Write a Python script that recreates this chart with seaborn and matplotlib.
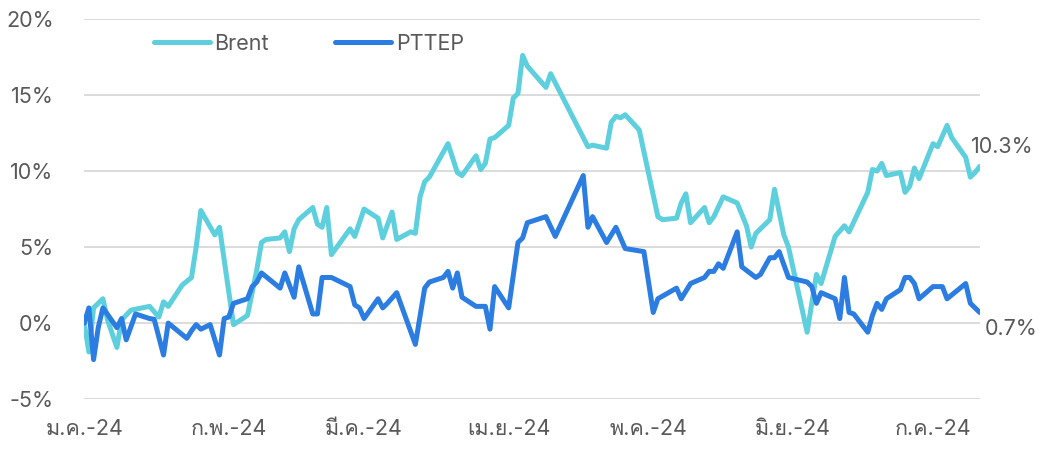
import pandas as pd
import matplotlib
matplotlib.use("Agg")
import matplotlib.pyplot as plt
import seaborn as sns
from matplotlib import font_manager, ft2font
from matplotlib.ticker import FuncFormatter

# ── Data (% change since start of year) ────
BRENT_DATES = [
    "2024-01-01", "2024-01-02", "2024-01-03", "2024-01-05", "2024-01-06",
    "2024-01-08", "2024-01-09", "2024-01-11", "2024-01-15", "2024-01-17",
    "2024-01-18", "2024-01-19", "2024-01-22", "2024-01-24", "2024-01-25",
    "2024-01-26", "2024-01-29", "2024-01-30", "2024-02-02", "2024-02-05",
    "2024-02-07", "2024-02-08", "2024-02-09", "2024-02-12", "2024-02-13",
    "2024-02-14", "2024-02-15", "2024-02-16", "2024-02-19", "2024-02-20",
    "2024-02-21", "2024-02-22", "2024-02-23", "2024-02-27", "2024-02-28",
    "2024-03-01", "2024-03-04", "2024-03-05", "2024-03-07", "2024-03-08",
    "2024-03-11", "2024-03-12", "2024-03-13", "2024-03-14", "2024-03-15",
    "2024-03-19", "2024-03-21", "2024-03-22", "2024-03-25", "2024-03-26",
    "2024-03-27", "2024-03-28", "2024-03-29", "2024-04-01", "2024-04-02",
    "2024-04-03", "2024-04-04", "2024-04-05", "2024-04-09", "2024-04-10",
    "2024-04-18", "2024-04-19", "2024-04-22", "2024-04-23", "2024-04-24",
    "2024-04-25", "2024-04-26", "2024-04-29", "2024-05-03", "2024-05-04",
    "2024-05-07", "2024-05-08", "2024-05-09", "2024-05-10", "2024-05-13",
    "2024-05-14", "2024-05-15", "2024-05-17", "2024-05-20", "2024-05-22",
    "2024-05-23", "2024-05-24", "2024-05-27", "2024-05-28", "2024-05-30",
    "2024-05-31", "2024-06-04", "2024-06-06", "2024-06-07", "2024-06-10",
    "2024-06-12", "2024-06-13", "2024-06-17", "2024-06-18", "2024-06-19",
    "2024-06-20", "2024-06-21", "2024-06-24", "2024-06-25", "2024-06-26",
    "2024-06-27", "2024-06-28", "2024-07-01", "2024-07-02", "2024-07-04",
    "2024-07-05", "2024-07-08", "2024-07-09", "2024-07-10", "2024-07-11",
]
BRENT_VALUES = [
    0.0, -1.9, 1.0, 1.6, 0.2,
    -1.6, 0.2, 0.85, 1.1, 0.4,
    1.4, 1.1, 2.5, 3.0, 5.0,
    7.4, 5.8, 6.3, -0.1, 0.5,
    3.5, 5.3, 5.5, 5.6, 6.0,
    4.7, 6.2, 6.8, 7.6, 6.5,
    6.3, 7.6, 4.5, 6.2, 5.7,
    7.5, 6.9, 5.6, 7.3, 5.5,
    6.0, 5.9, 8.3, 9.3, 9.6,
    11.8, 9.9, 9.7, 11.0, 10.1,
    10.5, 12.1, 12.2, 13.0, 14.8,
    15.1, 17.6, 16.9, 15.5, 16.4,
    11.6, 11.7, 11.5, 13.2, 13.6,
    13.5, 13.7, 12.7, 7.0, 6.8,
    6.9, 7.9, 8.5, 6.6, 7.6,
    6.6, 7.0, 8.3, 7.9, 6.4,
    5.0, 5.9, 6.8, 8.8, 5.8,
    5.0, -0.6, 3.2, 2.6, 5.7,
    6.4, 6.0, 8.6, 10.1, 10.0,
    10.5, 9.7, 9.9, 8.6, 9.0,
    10.2, 9.5, 11.8, 11.6, 13.0,
    12.2, 10.9, 9.6, 9.9, 10.3,
]

PTTEP_DATES = [
    "2024-01-01", "2024-01-02", "2024-01-03", "2024-01-04", "2024-01-05",
    "2024-01-08", "2024-01-09", "2024-01-10", "2024-01-12", "2024-01-15",
    "2024-01-16", "2024-01-18", "2024-01-19", "2024-01-23", "2024-01-24",
    "2024-01-25", "2024-01-26", "2024-01-28", "2024-01-30", "2024-01-31",
    "2024-02-01", "2024-02-02", "2024-02-05", "2024-02-06", "2024-02-07",
    "2024-02-08", "2024-02-12", "2024-02-13", "2024-02-15", "2024-02-16",
    "2024-02-19", "2024-02-20", "2024-02-21", "2024-02-23", "2024-02-27",
    "2024-02-28", "2024-02-29", "2024-03-01", "2024-03-04", "2024-03-05",
    "2024-03-06", "2024-03-08", "2024-03-12", "2024-03-14", "2024-03-15",
    "2024-03-18", "2024-03-19", "2024-03-20", "2024-03-21", "2024-03-22",
    "2024-03-25", "2024-03-27", "2024-03-28", "2024-03-29", "2024-04-01",
    "2024-04-03", "2024-04-04", "2024-04-05", "2024-04-09", "2024-04-11",
    "2024-04-17", "2024-04-18", "2024-04-19", "2024-04-22", "2024-04-24",
    "2024-04-26", "2024-04-30", "2024-05-02", "2024-05-03", "2024-05-07",
    "2024-05-08", "2024-05-10", "2024-05-13", "2024-05-14", "2024-05-15",
    "2024-05-16", "2024-05-17", "2024-05-20", "2024-05-21", "2024-05-24",
    "2024-05-25", "2024-05-27", "2024-05-28", "2024-05-29", "2024-05-31",
    "2024-06-04", "2024-06-05", "2024-06-06", "2024-06-07", "2024-06-10",
    "2024-06-11", "2024-06-12", "2024-06-13", "2024-06-14", "2024-06-17",
    "2024-06-18", "2024-06-19", "2024-06-20", "2024-06-21", "2024-06-24",
    "2024-06-25", "2024-06-26", "2024-06-27", "2024-06-28", "2024-07-01",
    "2024-07-03", "2024-07-04", "2024-07-08", "2024-07-09", "2024-07-11",
]
PTTEP_VALUES = [
    0.0, 1.0, -2.4, -0.3, 1.0,
    -0.3, 0.3, -1.1, 0.6, 0.3,
    0.25, -2.1, 0.0, -1.0, -0.5,
    -0.1, -0.4, -0.1, -2.1, 0.3,
    0.4, 1.3, 1.6, 2.4, 2.7,
    3.3, 2.3, 3.3, 1.7, 3.7,
    0.6, 0.6, 3.0, 3.0, 2.4,
    1.2, 1.0, 0.3, 1.6, 1.0,
    1.3, 2.0, -1.4, 2.3, 2.7,
    3.0, 3.4, 2.3, 3.3, 1.7,
    1.1, 1.1, -0.4, 2.4, 1.0,
    5.3, 5.6, 6.6, 7.0, 5.7,
    9.7, 6.3, 7.0, 5.3, 6.3,
    4.9, 4.7, 0.7, 1.6, 2.3,
    1.6, 2.6, 3.0, 3.4, 3.4,
    3.9, 3.6, 6.0, 3.7, 3.0,
    3.2, 4.3, 4.3, 4.7, 3.0,
    2.7, 2.4, 1.3, 2.0, 1.6,
    0.3, 3.0, 0.7, 0.6, -0.6,
    0.5, 1.3, 0.9, 1.6, 2.2,
    3.0, 3.0, 2.6, 1.6, 2.4,
    2.4, 1.6, 2.6, 1.3, 0.7,
]

MONTH_TICKS = ["2024-01-01", "2024-02-01", "2024-03-01", "2024-04-01",
               "2024-05-01", "2024-06-01", "2024-07-01"]
MONTH_LABELS = ["ม.ค.-24", "ก.พ.-24", "มี.ค.-24", "เม.ย.-24",
                "พ.ค.-24", "มิ.ย.-24", "ก.ค.-24"]
Y_TICKS = [-5, 0, 5, 10, 15, 20]

BRENT_COLOR = "#5DCFDD"
PTTEP_COLOR = "#2B7DE1"
TEXT_COLOR = "#595959"


# ── Font with Thai glyphs (whatever the sandbox has) ─────────────────────
def find_thai_font():
    for f in font_manager.fontManager.ttflist:
        try:
            if 0x0E21 in ft2font.FT2Font(f.fname).get_charmap():
                return f.name
        except Exception:
            continue
    return None


sns.set_theme(style="white")
thai = find_thai_font()
families = ["Inter", "DejaVu Sans"]
if thai:
    families.insert(1, thai)
plt.rcParams["font.family"] = families

# ── Build frames ─────────────────────────────────────────────────────────
brent = pd.DataFrame({"date": pd.to_datetime(BRENT_DATES), "value": BRENT_VALUES})
pttep = pd.DataFrame({"date": pd.to_datetime(PTTEP_DATES), "value": PTTEP_VALUES})

# ── Plot ─────────────────────────────────────────────────────────────────
fig = plt.figure(figsize=(10.4, 4.51), dpi=100)
ax = fig.add_axes([0.081, 0.115, 0.861, 0.843])

sns.lineplot(data=brent, x="date", y="value", ax=ax, color=BRENT_COLOR,
             lw=3.6, label="Brent", solid_joinstyle="round", solid_capstyle="round")
sns.lineplot(data=pttep, x="date", y="value", ax=ax, color=PTTEP_COLOR,
             lw=3.6, label="PTTEP", solid_joinstyle="round", solid_capstyle="round")

ax.set_xlim(pd.Timestamp("2024-01-01"), pd.Timestamp("2024-07-11"))
ax.set_ylim(-5, 20)
ax.set_yticks(Y_TICKS)
ax.yaxis.set_major_formatter(FuncFormatter(lambda v, _: f"{v:.0f}%"))
ax.set_xticks(pd.to_datetime(MONTH_TICKS))
ax.set_xticklabels(MONTH_LABELS)
ax.tick_params(axis="both", length=0, labelsize=15.5, colors=TEXT_COLOR)
ax.tick_params(axis="y", pad=22)
ax.tick_params(axis="x", pad=14)
ax.set_xlabel("")
ax.set_ylabel("")

ax.grid(axis="y", color="#D9D9D9", lw=1.3)
ax.set_axisbelow(True)
for s in ax.spines.values():
    s.set_visible(False)

# end-of-series labels
ax.annotate(f"{BRENT_VALUES[-1]:.1f}%", (brent["date"].iloc[-1], BRENT_VALUES[-1]),
            xytext=(-6, 7), textcoords="offset points", ha="left", va="bottom",
            fontsize=15.5, color=TEXT_COLOR, annotation_clip=False)
ax.annotate(f"{PTTEP_VALUES[-1]:.1f}%", (pttep["date"].iloc[-1], PTTEP_VALUES[-1]),
            xytext=(4, -5), textcoords="offset points", ha="left", va="top",
            fontsize=15.5, color=TEXT_COLOR, annotation_clip=False)

leg = ax.legend(loc="center left", bbox_to_anchor=(0.056, 0.935), ncol=2,
                frameon=False, fontsize=15.5, handlelength=2.6,
                handletextpad=0.2, columnspacing=3.1)
for t in leg.get_texts():
    t.set_color(TEXT_COLOR)

fig.savefig("out.png", dpi=100)
